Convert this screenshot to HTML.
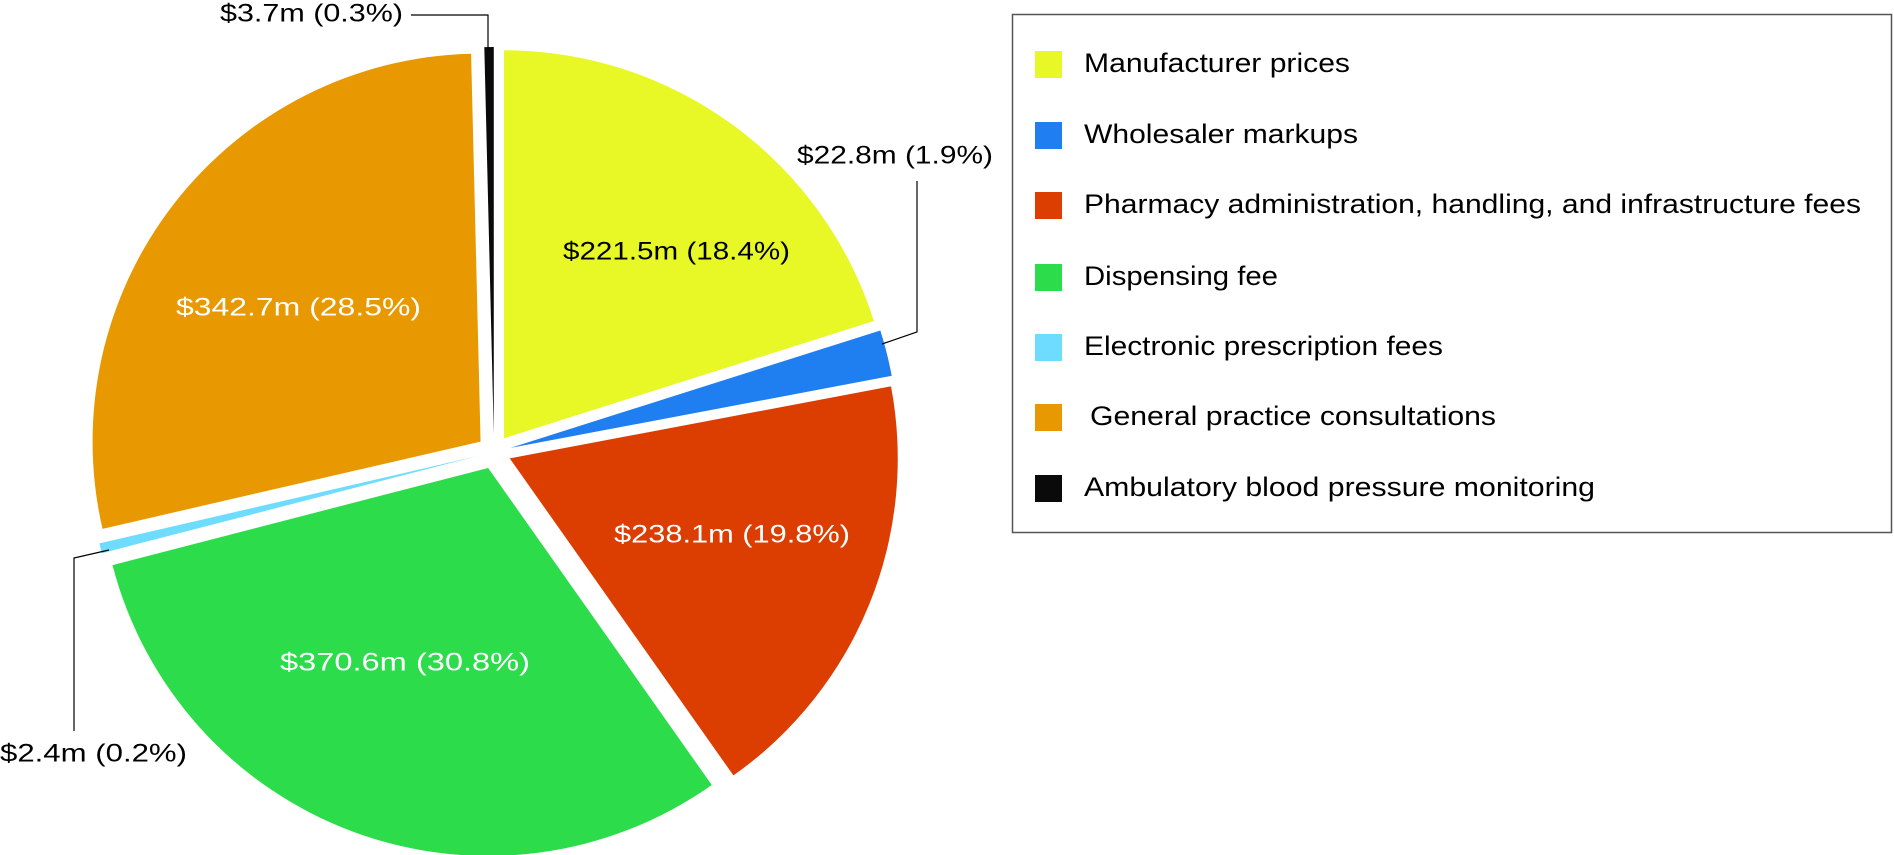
<!DOCTYPE html>
<html><head><meta charset="utf-8">
<style>
html,body{margin:0;padding:0;background:#fff;}
svg{display:block;font-family:"Liberation Sans",sans-serif;}
</style></head>
<body>
<svg id="s" width="1894" height="855" viewBox="0 0 1894 855" xmlns="http://www.w3.org/2000/svg">
<g id="pie"></g>
<polyline points="411,15 488,15 488,50" fill="none" stroke="#000" stroke-width="1.2"/>
<polyline points="917,181 917,332 882,344" fill="none" stroke="#000" stroke-width="1.2"/>
<polyline points="74,731 74,558 109,550" fill="none" stroke="#000" stroke-width="1.2"/>
<g font-size="25" dominant-baseline="middle">
<text x="220" y="15" textLength="183" lengthAdjust="spacingAndGlyphs">$3.7m (0.3%)</text>
<text x="797" y="157" textLength="196" lengthAdjust="spacingAndGlyphs">$22.8m (1.9%)</text>
<text x="0" y="755" textLength="187" lengthAdjust="spacingAndGlyphs">$2.4m (0.2%)</text>
<text x="563" y="253" textLength="227" lengthAdjust="spacingAndGlyphs">$221.5m (18.4%)</text>
<text x="176" y="309" fill="#fff" textLength="245" lengthAdjust="spacingAndGlyphs">$342.7m (28.5%)</text>
<text x="614" y="536" fill="#fff" textLength="236" lengthAdjust="spacingAndGlyphs">$238.1m (19.8%)</text>
<text x="280" y="664" fill="#fff" textLength="250" lengthAdjust="spacingAndGlyphs">$370.6m (30.8%)</text>
</g>
<rect x="1012.5" y="14.5" width="879" height="518" fill="none" stroke="#555" stroke-width="1.5"/>
<g>
<rect x="1035" y="51" width="27" height="27" fill="#e8f826"/>
<rect x="1035" y="122" width="27" height="27" fill="#1f7ff0"/>
<rect x="1035" y="192" width="27" height="27" fill="#dc3d00"/>
<rect x="1035" y="264" width="27" height="27" fill="#2cdc4a"/>
<rect x="1035" y="334" width="27" height="27" fill="#6ddcff"/>
<rect x="1035" y="404" width="27" height="27" fill="#e89800"/>
<rect x="1035" y="475" width="27" height="27" fill="#0a0a0a"/>
</g>
<g font-size="27" dominant-baseline="middle">
<text x="1084" y="65" textLength="266" lengthAdjust="spacingAndGlyphs">Manufacturer prices</text>
<text x="1084" y="136" textLength="274" lengthAdjust="spacingAndGlyphs">Wholesaler markups</text>
<text x="1084" y="206" textLength="777" lengthAdjust="spacingAndGlyphs">Pharmacy administration, handling, and infrastructure fees</text>
<text x="1084" y="278" textLength="194" lengthAdjust="spacingAndGlyphs">Dispensing fee</text>
<text x="1084" y="348" textLength="359" lengthAdjust="spacingAndGlyphs">Electronic prescription fees</text>
<text x="1090" y="418" textLength="406" lengthAdjust="spacingAndGlyphs">General practice consultations</text>
<text x="1084" y="489" textLength="511" lengthAdjust="spacingAndGlyphs">Ambulatory blood pressure monitoring</text>
</g>
</svg>
<script>
(function(){
var cx=494,cy=452,r=388,d=17;
var data=[[0,72.4,"#e8f826"],[72.4,79.3,"#1f7ff0"],[79.3,144.8,"#dc3d00"],[144.8,255.5,"#2cdc4a"],[255.5,257,"#6ddcff"],[257,358.6,"#e89800"],[358.6,360,"#0a0a0a"]];
var g=document.getElementById("pie"),out="",k=Math.PI/180;
data.forEach(function(x){
 var a0=x[0]*k,a1=x[1]*k;
 var m=(a0+a1)/2,ox=cx+Math.sin(m)*d,oy=cy-Math.cos(m)*d;
 var x0=ox+Math.sin(a0)*r,y0=oy-Math.cos(a0)*r,x1=ox+Math.sin(a1)*r,y1=oy-Math.cos(a1)*r;
 var large=(a1-a0)>Math.PI?1:0;
 out+='<path d="M'+ox+','+oy+' L'+x0+','+y0+' A'+r+','+r+' 0 '+large+' 1 '+x1+','+y1+' Z" fill="'+x[2]+'"/>';
});
g.innerHTML=out;
})();
</script>
</body></html>
